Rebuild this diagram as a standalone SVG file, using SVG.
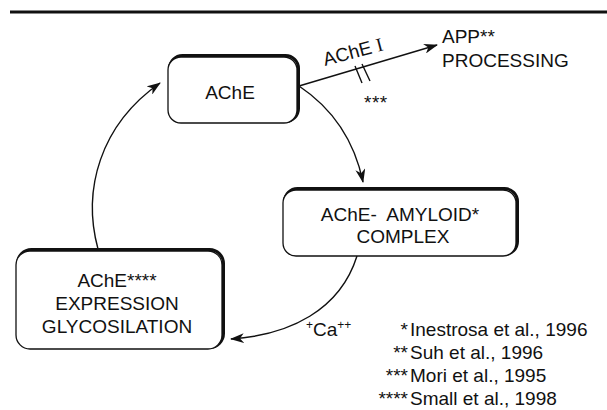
<svg xmlns="http://www.w3.org/2000/svg" width="607" height="410" viewBox="0 0 607 410">
<style>
text{font-family:"Liberation Sans",Arial,Helvetica,sans-serif;font-size:19px;fill:#111}
.shadow{fill:none;stroke:#111;stroke-width:3}
.box{fill:#fff;stroke:#111;stroke-width:1.3}
.conn{fill:none;stroke:#111;stroke-width:1.4}
.c{text-anchor:middle}
.e{text-anchor:end}
</style>
<defs>
<marker id="arr" markerUnits="userSpaceOnUse" markerWidth="14" markerHeight="10" refX="13" refY="5" orient="auto">
<path d="M0,0 L14,5 L0,10 L4,5 z" fill="#111"/>
</marker>
</defs>
<rect x="10" y="10.5" width="597" height="3" fill="#111"/>
<g id="connectors">
<path class="conn" d="M299,86 L437,45" marker-end="url(#arr)"/>
<path class="conn" d="M355,66 L362,83 M362,64 L370,81" stroke-width="1.2"/>
<path class="conn" d="M299,86 Q350,120 363,182" marker-end="url(#arr)"/>
<path class="conn" d="M357,256 C340,310 290,335 231,339" marker-end="url(#arr)"/>
<path class="conn" d="M98,249 C82,190 100,125 160,83" marker-end="url(#arr)"/>
</g>
<g id="ache">
<rect class="shadow" x="169.5" y="55.5" width="129" height="66" rx="13"/>
<rect class="box" x="168" y="57" width="129" height="66" rx="13"/>
<text class="c" x="230" y="99">AChE</text>
</g>
<g id="amyloid">
<rect class="shadow" x="284.5" y="188.5" width="233" height="66" rx="13"/>
<rect class="box" x="283" y="190" width="233" height="66" rx="13"/>
<text class="c" x="400" y="221" xml:space="preserve">AChE-  AMYLOID*</text>
<text class="c" x="403" y="243">COMPLEX</text>
</g>
<g id="expression">
<rect class="shadow" x="17.5" y="249.5" width="206" height="98" rx="14"/>
<rect class="box" x="16" y="251" width="206" height="98" rx="14"/>
<text class="c" x="117" y="287">AChE****</text>
<text class="c" x="117" y="310">EXPRESSION</text>
<text class="c" x="117" y="333">GLYCOSILATION</text>
</g>
<g id="app">
<text x="442" y="43">APP**</text>
<text x="442" y="67">PROCESSING</text>
</g>
<g id="labels">
<text x="325" y="66" font-size="18" transform="rotate(-15 325 66)">AChE <tspan font-family="Liberation Serif, serif" font-size="19">I</tspan></text>
<text x="364" y="109" font-size="17" letter-spacing="0.5">***</text>
<text x="306" y="336"><tspan font-size="12" dy="-7">+</tspan><tspan dy="7">Ca</tspan><tspan font-size="12" dy="-7">++</tspan></text>
</g>
<g id="refs">
<text class="e" x="408" y="336">*</text>
<text x="410" y="336">Inestrosa et al., 1996</text>
<text class="e" x="408" y="359">**</text>
<text x="410" y="359">Suh et al., 1996</text>
<text class="e" x="408" y="382">***</text>
<text x="410" y="382">Mori et al., 1995</text>
<text class="e" x="408" y="405">****</text>
<text x="410" y="405">Small et al., 1998</text>
</g>
</svg>
